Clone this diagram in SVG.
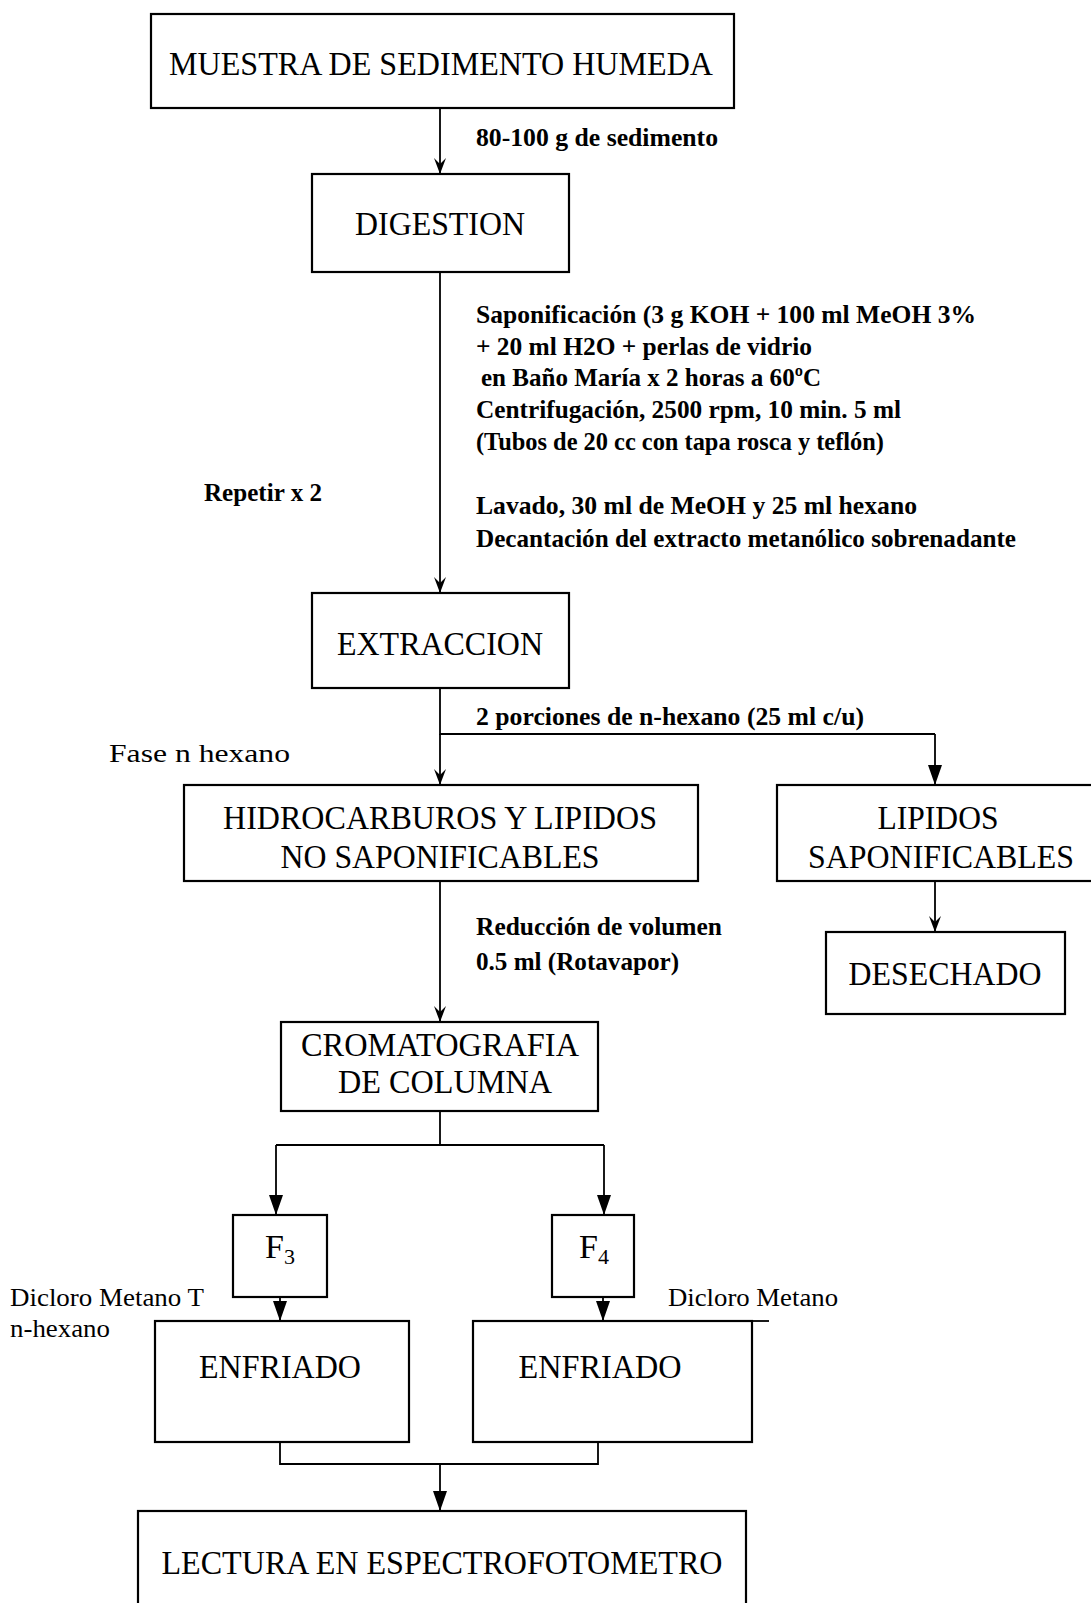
<svg xmlns="http://www.w3.org/2000/svg" width="1091" height="1603" viewBox="0 0 1091 1603">
<style>
.box{fill:#fff;stroke:#000;stroke-width:2.2}
.ln{fill:none;stroke:#000;stroke-width:1.8}
.bt{font-family:"Liberation Serif","Times New Roman",serif;font-size:34px;fill:#000;text-anchor:middle}
.lt{font-family:"Liberation Serif","Times New Roman",serif;font-size:26px;font-weight:bold;fill:#000}
.st{font-family:"Liberation Serif","Times New Roman",serif;font-size:26px;fill:#000}
</style>
<defs>
<marker id="barb" viewBox="0 0 16 12" refX="16" refY="6" markerWidth="16" markerHeight="12" markerUnits="userSpaceOnUse" orient="auto">
<path d="M0,0 L16,6 L0,12 L6,6 Z" fill="#000"/>
</marker>
<marker id="tri" viewBox="0 0 20 14" refX="20" refY="7" markerWidth="20" markerHeight="14" markerUnits="userSpaceOnUse" orient="auto">
<path d="M0,0 L20,7 L0,14 Z" fill="#000"/>
</marker>
</defs>
<rect width="1091" height="1603" fill="#fff"/>
<g id="connectors">
<line class="ln" x1="440" y1="108" x2="440" y2="174" marker-end="url(#barb)"/>
<line class="ln" x1="440" y1="272" x2="440" y2="593" marker-end="url(#barb)"/>
<polyline class="ln" points="440,688 440,734 935,734"/>
<line class="ln" x1="440" y1="734" x2="440" y2="785" marker-end="url(#barb)"/>
<line class="ln" x1="935" y1="734" x2="935" y2="785" marker-end="url(#tri)"/>
<line class="ln" x1="935" y1="881" x2="935" y2="932" marker-end="url(#barb)"/>
<line class="ln" x1="440" y1="881" x2="440" y2="1022" marker-end="url(#barb)"/>
<polyline class="ln" points="440,1111 440,1145"/>
<polyline class="ln" points="276,1145 604,1145"/>
<line class="ln" x1="276" y1="1145" x2="276" y2="1215" marker-end="url(#tri)"/>
<line class="ln" x1="604" y1="1145" x2="604" y2="1215" marker-end="url(#tri)"/>
<line class="ln" x1="280" y1="1297" x2="280" y2="1321" marker-end="url(#tri)"/>
<line class="ln" x1="603" y1="1297" x2="603" y2="1321" marker-end="url(#tri)"/>
<polyline class="ln" points="280,1442 280,1464 598,1464 598,1442"/>
<line class="ln" x1="440" y1="1464" x2="440" y2="1511" marker-end="url(#tri)"/>
</g>
<g id="n1"><rect class="box" x="151" y="14" width="583" height="94"/><text class="bt" x="441" y="75" textLength="544" lengthAdjust="spacingAndGlyphs">MUESTRA DE SEDIMENTO HUMEDA</text></g>
<g id="l1"><text class="lt" x="476" y="146" textLength="242" lengthAdjust="spacingAndGlyphs">80-100 g de sedimento</text></g>
<g id="n2"><rect class="box" x="312" y="174" width="257" height="98"/><text class="bt" x="440" y="235" textLength="170" lengthAdjust="spacingAndGlyphs">DIGESTION</text></g>
<g id="l2">
<text class="lt" x="476" y="323" textLength="500" lengthAdjust="spacingAndGlyphs">Saponificación (3 g KOH + 100 ml MeOH 3%</text>
<text class="lt" x="476" y="355" textLength="336" lengthAdjust="spacingAndGlyphs">+ 20 ml H2O + perlas de vidrio</text>
<text class="lt" x="481" y="386" textLength="340" lengthAdjust="spacingAndGlyphs">en Baño María x 2 horas a 60ºC</text>
<text class="lt" x="476" y="418" textLength="425" lengthAdjust="spacingAndGlyphs">Centrifugación, 2500 rpm, 10 min. 5 ml</text>
<text class="lt" x="476" y="450" textLength="408" lengthAdjust="spacingAndGlyphs">(Tubos de 20 cc con tapa rosca y teflón)</text>
<text class="lt" x="476" y="514" textLength="441" lengthAdjust="spacingAndGlyphs">Lavado, 30 ml de MeOH y 25 ml hexano</text>
<text class="lt" x="476" y="547" textLength="540" lengthAdjust="spacingAndGlyphs">Decantación del extracto metanólico sobrenadante</text>
</g>
<g id="l3"><text class="lt" x="204" y="501" textLength="118" lengthAdjust="spacingAndGlyphs">Repetir x 2</text></g>
<g id="n3"><rect class="box" x="312" y="593" width="257" height="95"/><text class="bt" x="440" y="655" textLength="206" lengthAdjust="spacingAndGlyphs">EXTRACCION</text></g>
<g id="l4"><text class="lt" x="476" y="725" textLength="388" lengthAdjust="spacingAndGlyphs">2 porciones de n-hexano (25 ml c/u)</text></g>
<g id="l5"><text class="st" x="109" y="762" font-size="31" textLength="181" lengthAdjust="spacingAndGlyphs">Fase n hexano</text></g>
<g id="n4"><rect class="box" x="184" y="785" width="514" height="96"/>
<text class="bt" x="440" y="829" textLength="434" lengthAdjust="spacingAndGlyphs">HIDROCARBUROS Y LIPIDOS</text>
<text class="bt" x="440" y="868" textLength="319" lengthAdjust="spacingAndGlyphs">NO SAPONIFICABLES</text></g>
<g id="n5"><rect class="box" x="777" y="785" width="330" height="96"/>
<text class="bt" x="938" y="829" textLength="121" lengthAdjust="spacingAndGlyphs">LIPIDOS</text>
<text class="bt" x="941" y="868" textLength="266" lengthAdjust="spacingAndGlyphs">SAPONIFICABLES</text></g>
<g id="n6"><rect class="box" x="826" y="932" width="239" height="82"/><text class="bt" x="945" y="985" textLength="193" lengthAdjust="spacingAndGlyphs">DESECHADO</text></g>
<g id="l6">
<text class="lt" x="476" y="935" textLength="246" lengthAdjust="spacingAndGlyphs">Reducción de volumen</text>
<text class="lt" x="476" y="970" textLength="203" lengthAdjust="spacingAndGlyphs">0.5 ml (Rotavapor)</text>
</g>
<g id="n7"><rect class="box" x="281" y="1022" width="317" height="89"/>
<text class="bt" x="440" y="1056" textLength="278" lengthAdjust="spacingAndGlyphs">CROMATOGRAFIA</text>
<text class="bt" x="445" y="1093" textLength="214" lengthAdjust="spacingAndGlyphs">DE COLUMNA</text></g>
<g id="n8"><rect class="box" x="233" y="1215" width="94" height="82" stroke-width="3"/>
<text class="bt" x="280" y="1258">F<tspan font-size="22" dy="6">3</tspan></text></g>
<g id="n9"><rect class="box" x="552" y="1215" width="82" height="82" stroke-width="3"/>
<text class="bt" x="594" y="1258">F<tspan font-size="22" dy="6">4</tspan></text></g>
<g id="l7">
<text class="st" x="10" y="1306" textLength="194" lengthAdjust="spacingAndGlyphs">Dicloro Metano T</text>
<text class="st" x="10" y="1337" textLength="100" lengthAdjust="spacingAndGlyphs">n-hexano</text>
<text class="st" x="668" y="1306" textLength="170" lengthAdjust="spacingAndGlyphs">Dicloro Metano</text>
</g>
<g id="n10"><rect class="box" x="155" y="1321" width="254" height="121"/><text class="bt" x="280" y="1378" textLength="162" lengthAdjust="spacingAndGlyphs">ENFRIADO</text></g>
<g id="n11"><rect class="box" x="473" y="1321" width="279" height="121"/><line class="ln" x1="752" y1="1321" x2="769" y2="1321"/><text class="bt" x="600" y="1378" textLength="163" lengthAdjust="spacingAndGlyphs">ENFRIADO</text></g>
<g id="n12"><rect class="box" x="138" y="1511" width="608" height="110"/><text class="bt" x="442" y="1574" textLength="561" lengthAdjust="spacingAndGlyphs">LECTURA EN ESPECTROFOTOMETRO</text></g>
</svg>
